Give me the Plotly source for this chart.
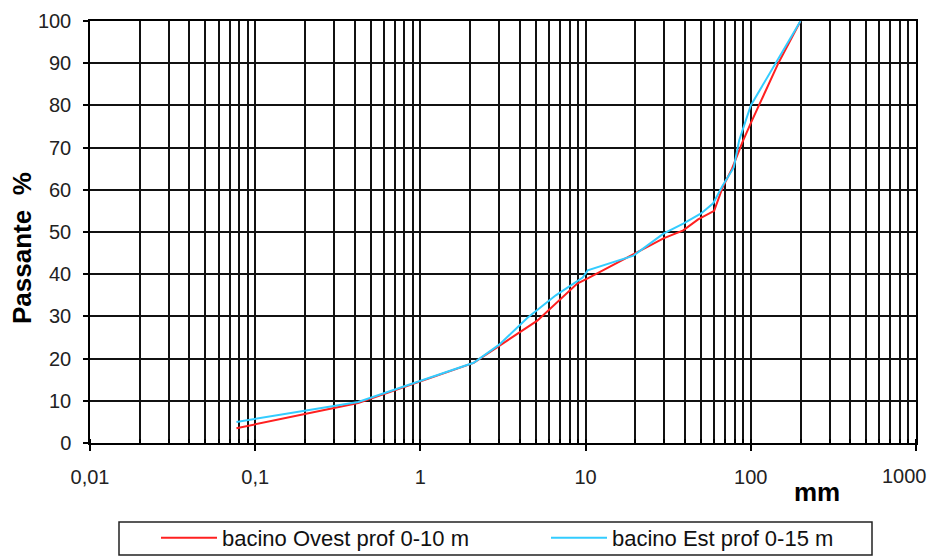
import plotly.graph_objects as go

# Data
ovest_mm = [0.077, 0.42, 2.1, 5.1, 8.9, 10.3, 29.6, 39, 48, 60, 67.6, 77, 89, 100, 148, 200]
ovest_pass = [3.5, 9.5, 19, 29, 37.8, 39, 48.5, 50.4, 53, 55, 60.6, 65, 71.3, 75.8, 90.3, 100]

est_mm = [0.077, 0.42, 2.1, 3.0, 4.45, 6.6, 9.6, 10.3, 19.5, 29.6, 39, 50, 59.2, 67.6, 78.9, 85, 100, 145, 200]
est_pass = [5, 9.7, 19, 23.3, 29.7, 35, 39.2, 40.9, 44.4, 49.6, 52, 54.4, 56.8, 61, 65.3, 71.7, 80, 90.7, 100]

x_tickvals = [0.01, 0.1, 1, 10, 100, 1000]
x_ticktext = ["0,01", "0,1", "1", "10", "100", "1000"]
y_tickvals = [0, 10, 20, 30, 40, 50, 60, 70, 80, 90, 100]

FONT = "Liberation Sans, Arial, sans-serif"

# page body margin offset (the figure is drawn 8px in from the window corner)
OFF = 8
FW, FH = 935 - OFF, 559 - OFF

# plot-area geometry in reference window pixels, converted to figure pixels
L, R, T, B = 90 - OFF, 916 - OFF, 21 - OFF, 443 - OFF
PW, PH = R - L, B - T


def px_x(x):
    return (x - OFF - L) / PW


def px_y(y):
    return (B - (y - OFF)) / PH


def cx(x):
    return (x - OFF) / FW


def cy(y):
    return (FH - (y - OFF)) / FH


fig = go.Figure()
fig.add_trace(go.Scatter(x=ovest_mm, y=ovest_pass, mode="lines",
                         name="bacino Ovest prof 0-10 m", legend="legend",
                         line=dict(color="#FF2020", width=2)))
fig.add_trace(go.Scatter(x=est_mm, y=est_pass, mode="lines",
                         name="bacino Est prof 0-15 m", legend="legend2",
                         line=dict(color="#33CCFF", width=2)))

leg_common = dict(orientation="h", xanchor="left", yanchor="middle",
                  xref="container", yref="container",
                  font=dict(family=FONT, size=22, color="#111111"),
                  bgcolor="rgba(0,0,0,0)", borderwidth=0, itemwidth=56)

# tick labels shown by the axis; the last one is drawn right-aligned so it stays on the page
axis_ticktext = x_ticktext[:-1] + [""]

fig.update_layout(
    width=FW, height=FH,
    margin=dict(l=L, r=FW - R, t=T, b=FH - B),
    paper_bgcolor="white", plot_bgcolor="white",
    font=dict(family=FONT, size=20, color="#222222"),
    showlegend=True,
    legend=dict(x=cx(156), y=cy(538), **leg_common),
    legend2=dict(x=cx(546), y=cy(538), **leg_common),
    shapes=[dict(type="rect", xref="paper", yref="paper",
                 x0=px_x(119), x1=px_x(872), y0=px_y(555), y1=px_y(522),
                 line=dict(color="#222222", width=1.5), fillcolor="rgba(0,0,0,0)")],
    annotations=[
        dict(text=x_ticktext[-1], xref="x", yref="paper",
             x=3, y=px_y(476), xanchor="right", yanchor="middle", xshift=12,
             borderpad=0,
             showarrow=False, font=dict(family=FONT, size=20, color="#222222")),
        dict(text="<b>mm</b>", xref="paper", yref="paper",
             x=px_x(817), y=px_y(492), xanchor="center", yanchor="middle",
             showarrow=False, font=dict(family=FONT, size=26, color="black")),
        dict(text="<b>Passante  %</b>", xref="paper", yref="paper", textangle=-90,
             x=px_x(22), y=px_y(248), xanchor="center", yanchor="middle",
             showarrow=False, font=dict(family=FONT, size=26, color="black")),
    ],
)

fig.update_xaxes(type="log", range=[-2, 3], automargin=False,
                 tickmode="array", tickvals=x_tickvals, ticktext=axis_ticktext,
                 ticklabeloverflow="allow",
                 showgrid=True, gridcolor="#111111", gridwidth=1.5,
                 minor=dict(showgrid=True, gridcolor="#111111", gridwidth=1.5, dtick="D1",
                            ticks="inside", ticklen=4, tickcolor="black"),
                 showline=True, linecolor="black", linewidth=1.5, mirror=True,
                 ticks="outside", ticklen=6, tickcolor="black", tickwidth=1.5,
                 ticklabelstandoff=9, zeroline=False,
                 tickfont=dict(family=FONT, size=20, color="#222222"))
fig.update_yaxes(range=[0, 100], tickmode="array", tickvals=y_tickvals, automargin=False,
                 ticklabeloverflow="allow",
                 showgrid=True, gridcolor="#111111", gridwidth=1.5,
                 showline=True, linecolor="black", linewidth=1.5, mirror=True,
                 ticks="outside", ticklen=5, tickcolor="black", tickwidth=1.5,
                 ticklabelstandoff=8, zeroline=False,
                 tickfont=dict(family=FONT, size=20, color="#222222"))

fig.write_html("out.html")
